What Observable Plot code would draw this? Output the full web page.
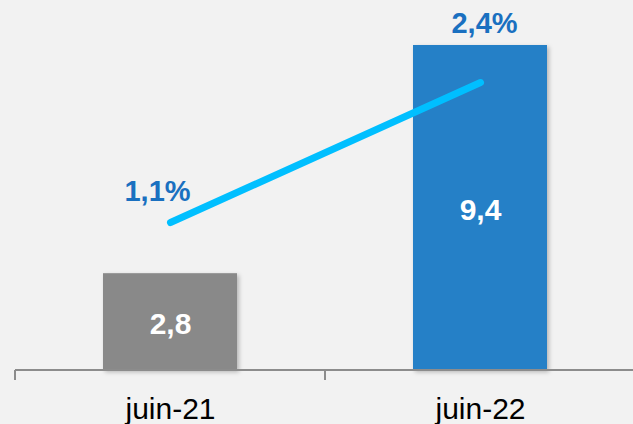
<!DOCTYPE html>
<html>
<head>
<meta charset="utf-8">
<script src="https://cdn.jsdelivr.net/npm/d3@7"></script>
<script src="https://cdn.jsdelivr.net/npm/@observablehq/plot@0.6"></script>
<style>
  html, body { margin: 0; padding: 0; background: #F2F2F2; }
  #chart svg { display: block; background: #F2F2F2; font-family: "Liberation Sans", Arial, sans-serif; }
  g[aria-label="bar"] { filter: drop-shadow(2px 2px 2px rgba(0,0,0,0.25)); }
</style>
</head>
<body>
<div id="chart"></div>
<script>
const categories = ["juin-21", "juin-22"];
const barValues = [2.8, 9.4];
const barLabels = ["2,8", "9,4"];
const barColors = ["#898989", "#2580C7"];
const pctValues = [1.1, 2.4];
const pctLabels = ["1,1%", "2,4%"];

// secondary axis (percent) mapped onto primary axis units
const secondary = d3.scaleLinear().domain([-0.274, 2.744]).range([0, 9.4]);

const bars = categories.map((c, i) => ({cat: c, value: barValues[i], label: barLabels[i], color: barColors[i]}));
const pcts = categories.map((c, i) => ({cat: c, pct: pctValues[i], y: secondary(pctValues[i]), label: pctLabels[i]}));

const axisMark = (index, scales, values, dimensions) => {
  const g = d3.create("svg:g");
  const x = scales.x, y = scales.y;
  const y0 = y(0);
  const x0 = dimensions.marginLeft, x1 = dimensions.width - dimensions.marginRight;
  g.append("line").attr("x1", x0).attr("x2", x1).attr("y1", y0).attr("y2", y0)
    .attr("stroke", "#8C8C8C").attr("stroke-width", 2);
  const edges = categories.map(c => x(c)).concat([x(categories[categories.length - 1]) + x.bandwidth()]);
  edges.forEach(e => {
    g.append("line").attr("x1", e).attr("x2", e).attr("y1", y0).attr("y2", y0 + 10)
      .attr("stroke", "#8C8C8C").attr("stroke-width", 2);
  });
  return g.node();
};

const chart = Plot.plot({
  width: 633,
  height: 424,
  marginLeft: 15,
  marginRight: -2,
  marginTop: 45,
  marginBottom: 54,
  style: {background: "#F2F2F2", fontFamily: "'Liberation Sans', Arial, sans-serif"},
  x: {type: "band", domain: categories, padding: 0, axis: null},
  y: {domain: [0, 9.4], axis: null},
  marks: [
    Plot.barY(bars, {x: "cat", y: "value", fill: "color", insetLeft: 88, insetRight: 88}),
    axisMark,
    Plot.text(bars, {x: "cat", y: d => d.value / 2, text: "label", fill: "white", fontSize: 30, fontWeight: "bold", dy: 2}),
    Plot.line(pcts, {x: "cat", y: "y", stroke: "#00BFFF", strokeWidth: 7, strokeLinecap: "round"}),
    Plot.text(pcts.filter((d, i) => i === 0), {x: "cat", y: "y", text: "label", fill: "#1A70C0", fontSize: 29, fontWeight: "bold", dx: -13, dy: -31}),
    Plot.text(pcts.filter((d, i) => i === 1), {x: "cat", y: "y", text: "label", fill: "#1A70C0", fontSize: 29, fontWeight: "bold", dx: 4, dy: -59}),
    Plot.text(categories, {x: d => d, y: 0, text: d => d, fill: "#000", fontSize: 30, lineAnchor: "top", dy: 27})
  ]
});
document.getElementById("chart").appendChild(chart);
</script>
</body>
</html>
